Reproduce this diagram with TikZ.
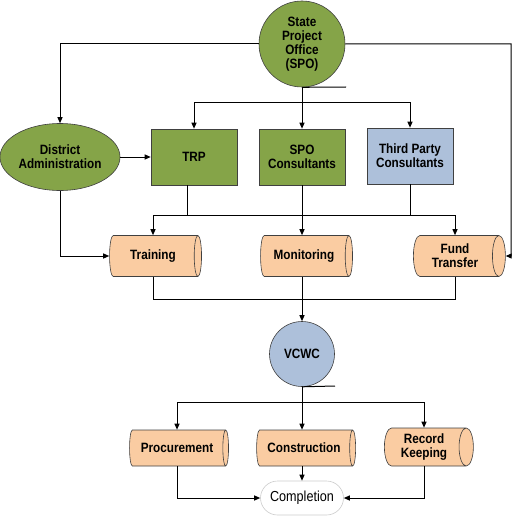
\documentclass[tikz,border=0pt]{standalone}
\usepackage{fontspec}
\setmainfont{Liberation Sans}[FakeStretch=0.87]
\usetikzlibrary{shapes.geometric,shapes.misc,arrows.meta}
\definecolor{olive}{RGB}{133,164,72}
\definecolor{steel}{RGB}{173,192,218}
\definecolor{peach}{RGB}{250,204,162}
\begin{document}
\begin{tikzpicture}[x=1pt,y=-1pt,line width=1pt,>={Triangle[length=6pt,width=5pt]},
  every node/.style={draw=black!75,line width=0.6pt,align=center,inner sep=1pt,font=\fontsize{13.5}{14}\selectfont\bfseries},
  hub/.style={circle,fill=olive},
  unit/.style={rectangle,fill=olive,minimum width=86pt,minimum height=56pt},
  task/.style={cylinder,shape border rotate=0,aspect=0.5,fill=peach,minimum width=38pt,minimum height=92pt},]
  \useasboundingbox (0,0) rectangle (513,516);
  % top level
  \node[hub,minimum size=86pt] (spo) at (302,44) {State\\Project\\Office\\(SPO)};
  \node[ellipse,fill=olive,minimum width=117pt,minimum height=67pt] (da) at (60,157) {District\\Administration};
  \node[unit] (trp) at (194,157) {TRP};
  \node[unit] (spoc) at (302,157) {SPO\\Consultants};
  \node[unit,fill=steel] (tpc) at (410,156) {Third Party\\Consultants};
  % activities
  \node[task,minimum width=41pt] (train) at (153,256) {Training};
  \node[task,minimum width=41pt] (mon) at (304,256) {Monitoring};
  \node[task,minimum width=41pt] (fund) at (455,256) {Fund\\Transfer};
  \node[hub,fill=steel,minimum size=65pt] (vcwc) at (302,354) {VCWC};
  \node[task,minimum width=36pt,minimum height=99pt] (proc) at (177,448) {Procurement};
  \node[task,minimum width=36pt,minimum height=99pt] (cons) at (304,448) {Construction};
  \node[task,minimum width=38pt,minimum height=89pt] (rec) at (424,447) {Record\\Keeping};
  \node[rounded rectangle,draw=black!20,fill=white,minimum width=85pt,minimum height=34pt,font=\fontsize{14.5}{14}\selectfont] (comp) at (302,498) {Completion};
  % helper points
  \coordinate (spostub) at (346,87);
  \coordinate (bus0) at (302,103);
  \coordinate (bus1) at (302,215);
  \coordinate (bus2) at (302,299);
  \coordinate (vcwcstub) at (335,386);
  \coordinate (bus3) at (302,402);
  \coordinate (rim) at (511,256);
  % links
  \draw[->] (spo.west) -| (da.north);
  \draw[->] (spo.east) -| (rim) -- (fund.east);
  \draw (spo.south) -- (spostub);
  \draw[->] (spo.south) -- (spoc.north);
  \draw[->] (bus0) -| (trp.north);
  \draw[->] (bus0) -| (tpc.north);
  \draw[->] (da) -- (trp);
  \draw[->] (da.south) |- (train.west);
  \draw ([xshift=-7pt]trp.south) |- (bus1);
  \draw (tpc.south) |- (bus1);
  \draw[->] (bus1) -| (train.north);
  \draw[->] (bus1) -| (fund.north);
  \draw[->] (spoc.south) -- (spoc.south |- mon.north);
  \draw (train.south) |- (bus2);
  \draw (fund.south) |- (bus2);
  \draw (bus1 |- mon.south) -- (bus2);
  \draw[->] (bus2) -- (vcwc.north);
  \draw (vcwc.south) -- (vcwcstub);
  \draw[->] (vcwc.south) -- (vcwc.south |- cons.north);
  \draw[->] (bus3) -| (proc.north);
  \draw[->] (bus3) -| (rec.north);
  \draw[->] (bus3 |- cons.south) -- (comp.north);
  \draw[->] (proc.south) |- (comp.west);
  \draw[->] (rec.south) |- (comp.east);
\end{tikzpicture}
\end{document}
